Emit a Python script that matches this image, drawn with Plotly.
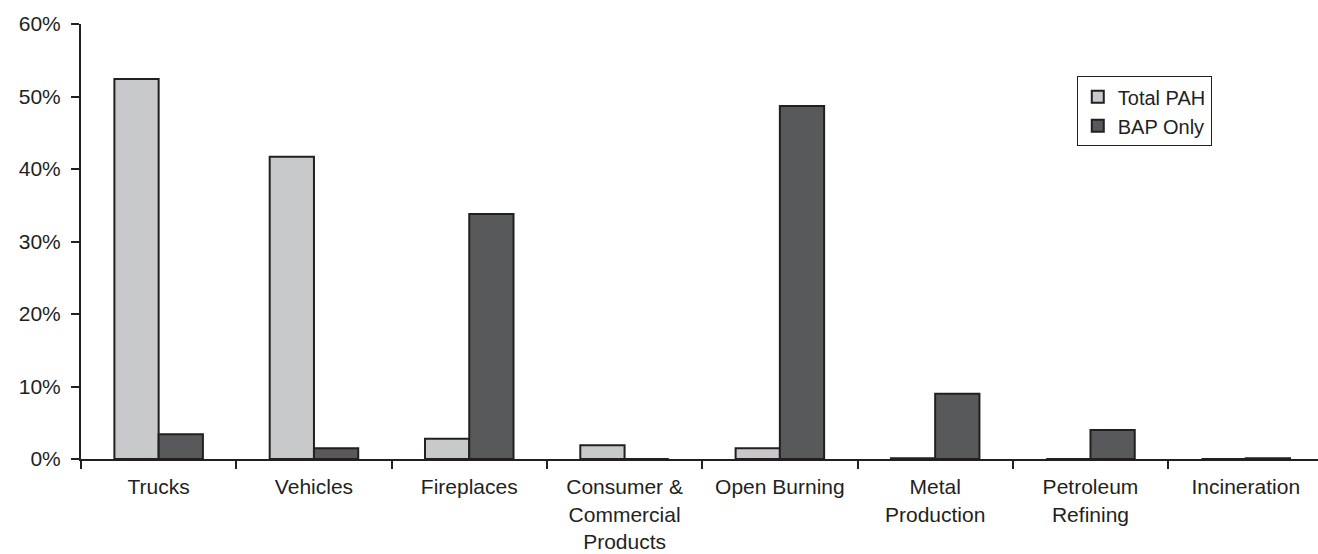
import plotly.graph_objects as go

categories = ["Trucks", "Vehicles", "Fireplaces", "Consumer &<br>Commercial<br>Products",
              "Open Burning", "Metal<br>Production", "Petroleum<br>Refining", "Incineration"]
total_pah = [52.4, 41.7, 2.8, 1.9, 1.5, 0.1, 0.0, 0.0]
bap_only = [3.4, 1.5, 33.8, 0.0, 48.7, 9.0, 4.0, 0.1]
y_ticks = [0, 10, 20, 30, 40, 50, 60]
y_tick_labels = ["0%", "10%", "20%", "30%", "40%", "50%", "60%"]

font_family = "Liberation Sans, Arial, sans-serif"
ink = "#231f20"
outline = dict(color=ink, width=2)

fig = go.Figure()
fig.add_trace(go.Bar(x=categories, y=total_pah, name="Total PAH",
                     marker=dict(color="#c8c9cb", line=outline)))
fig.add_trace(go.Bar(x=categories, y=bap_only, name="BAP Only",
                     marker=dict(color="#58595b", line=outline)))

fig.update_layout(
    width=1318, height=554,
    margin=dict(l=81, r=0, t=24, b=95),
    paper_bgcolor="white", plot_bgcolor="white",
    barmode="group", bargap=0.43, bargroupgap=0,
    font=dict(family=font_family, size=21, color=ink),
    legend=dict(x=0.805, y=0.88, xanchor="left", yanchor="top",
                bordercolor=ink, borderwidth=1, bgcolor="white",
                font=dict(size=20), itemwidth=30, tracegroupgap=0),
    showlegend=True,
)
fig.update_xaxes(
    range=[-0.5, 7.465], showline=True, linecolor=ink, linewidth=2,
    ticks="outside", tickson="boundaries", ticklen=8, tickwidth=2, tickcolor=ink,
    showgrid=False, zeroline=False, tickangle=0, ticklabelstandoff=8,
    automargin=False,
)
fig.update_yaxes(
    range=[0, 60], tickmode="array", tickvals=y_ticks, ticktext=y_tick_labels,
    showline=True, linecolor=ink, linewidth=2, ticks="outside", ticklen=8, tickwidth=2,
    tickcolor=ink, showgrid=False, zeroline=False, ticklabelstandoff=6,
    automargin=False,
)

fig.write_html("out.html")
